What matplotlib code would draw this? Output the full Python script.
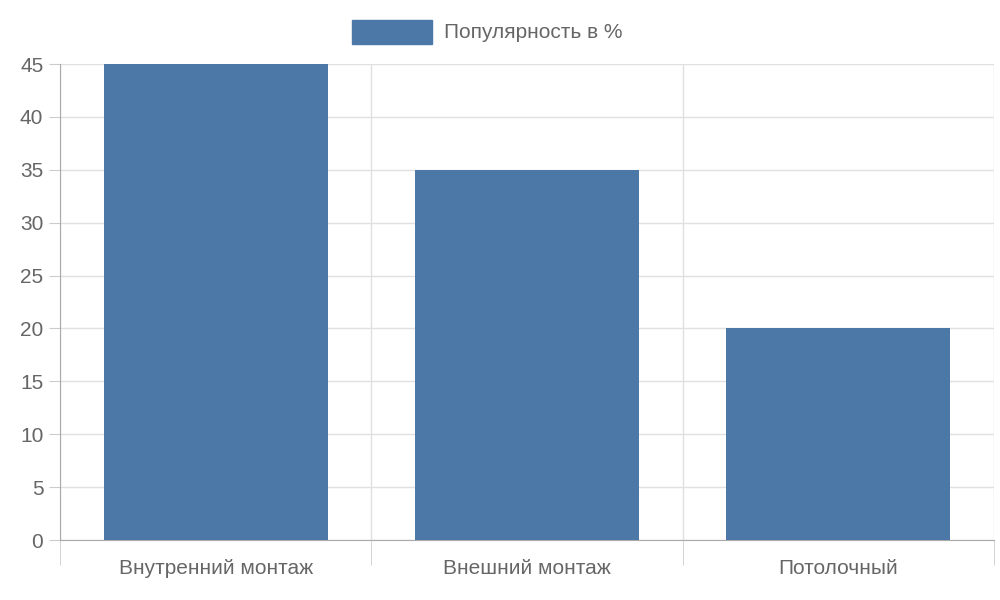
import matplotlib
matplotlib.use("Agg")
import matplotlib.pyplot as plt
from matplotlib.patches import Rectangle

categories = ["Внутренний монтаж", "Внешний монтаж", "Потолочный"]
values = [45, 35, 20]
series_name = "Популярность в %"

plt.rcParams['font.family'] = ['Liberation Sans', 'DejaVu Sans']
color = "#4c78a8"
txt = "#666666"

fig = plt.figure(figsize=(10, 6), dpi=100)
ax = fig.add_axes([0.06, 0.1, 0.934, 0.7933])
pos = [i + 0.5 for i in range(len(categories))]
ax.bar(pos, values, width=0.72, color=color, zorder=3)
ax.set_xlim(0, len(categories))
ax.set_ylim(0, 45)
ax.set_yticks(range(0, 46, 5))
ax.set_xticks(pos)
ax.set_xticklabels(categories)
ax.set_xticks(range(len(categories) + 1), minor=True)
ax.tick_params(axis='x', which='major', length=0, pad=14, labelsize=15, labelcolor=txt)
ax.tick_params(axis='x', which='minor', length=18, color="#cccccc")
ax.tick_params(axis='y', length=8, color="#cccccc", labelsize=15, labelcolor=txt, pad=4)
ax.grid(True, axis='y', color="#e0e0e0", lw=1, zorder=0)
ax.grid(True, axis='x', which='minor', color="#e0e0e0", lw=1, zorder=0)
for s in ['top', 'right']:
    ax.spines[s].set_visible(False)
for s in ['left', 'bottom']:
    ax.spines[s].set_color("#aaaaaa")

fig.patches.append(Rectangle((0.352, 1 - 44/600), 0.08, 24/600, transform=fig.transFigure,
                             facecolor=color, edgecolor=color))
fig.text(0.444, 1 - 32/600, series_name, fontsize=15, color=txt, va='center', ha='left')
fig.savefig("out.png", dpi=100)
